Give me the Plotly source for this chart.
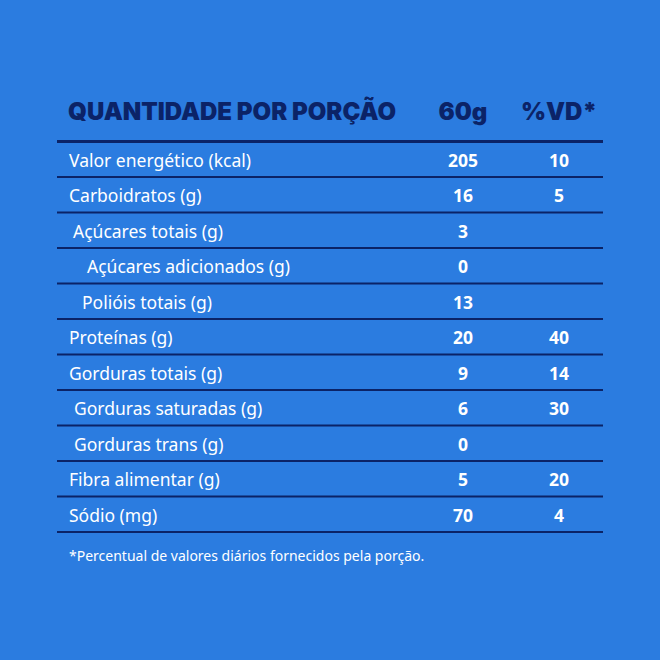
import plotly.graph_objects as go

# Table content
nutrients = [
    "Valor energético (kcal)",
    "Carboidratos (g)",
    "Açúcares totais (g)",
    "Açúcares adicionados (g)",
    "Polióis totais (g)",
    "Proteínas (g)",
    "Gorduras totais (g)",
    "Gorduras saturadas (g)",
    "Gorduras trans (g)",
    "Fibra alimentar (g)",
    "Sódio (mg)",
]
per_portion = ["205", "16", "3", "0", "13", "20", "9", "6", "0", "5", "70"]
daily_value = ["10", "5", "", "", "", "40", "14", "30", "", "20", "4"]
indent = [0, 0, 4, 18, 13, 0, 0, 5, 5, 0, 0]

header = ["QUANTIDADE POR PORÇÃO", "60g", "%VD*"]
footnote = "*Percentual de valores diários fornecidos pela porção."

BG = "#2b7ce0"
NAVY = "#0b2367"
WHITE = "#ffffff"
BODY_FONT = "Noto Sans"

top = 141.5
row_h = 35.5
left, right = 57, 603
col_val, col_vd = 463, 559

n = len(nutrients)
# text sits a little below the geometric middle of each row
row_mid = [top + row_h * (i + 0.5) + 3 for i in range(n)]

fig = go.Figure()

# header line (thicker)
fig.add_trace(go.Scatter(
    x=[left, right], y=[top, top], mode="lines",
    line=dict(color=NAVY, width=3), hoverinfo="skip"
))

# row separator lines
sep_x, sep_y = [], []
for i in range(1, n + 1):
    y = top + row_h * i
    sep_x += [left, right, None]
    sep_y += [y, y, None]
fig.add_trace(go.Scatter(
    x=sep_x, y=sep_y, mode="lines",
    line=dict(color=NAVY, width=2), hoverinfo="skip"
))

# nutrient names
fig.add_trace(go.Scatter(
    x=[69 + d for d in indent], y=row_mid, mode="text",
    text=nutrients, textposition="middle right",
    textfont=dict(family=BODY_FONT, size=17.5, color=WHITE),
    hoverinfo="skip"
))

# values per portion
fig.add_trace(go.Scatter(
    x=[col_val] * n, y=row_mid, mode="text",
    text=per_portion, textposition="middle center",
    textfont=dict(family=BODY_FONT, size=17.5, color=WHITE, weight=700),
    hoverinfo="skip"
))

# %VD
fig.add_trace(go.Scatter(
    x=[col_vd] * n, y=row_mid, mode="text",
    text=daily_value, textposition="middle center",
    textfont=dict(family=BODY_FONT, size=17.5, color=WHITE, weight=700),
    hoverinfo="skip"
))

# header row
fig.add_trace(go.Scatter(
    x=[68, col_val, col_vd], y=[114, 114, 114], mode="text",
    text=header, textposition=["middle right", "middle center", "middle center"],
    textfont=dict(family="Inter", size=24, color=NAVY, weight=900),
    hoverinfo="skip"
))

# footnote
fig.add_trace(go.Scatter(
    x=[69], y=[557], mode="text",
    text=[footnote], textposition="middle right",
    textfont=dict(family=BODY_FONT, size=14, color=WHITE),
    hoverinfo="skip"
))

fig.update_layout(
    width=660, height=660,
    margin=dict(l=0, r=0, t=0, b=0),
    paper_bgcolor=BG, plot_bgcolor=BG,
    showlegend=False,
    xaxis=dict(range=[0, 660], visible=False, fixedrange=True),
    yaxis=dict(range=[660, 0], visible=False, fixedrange=True),
)

fig.write_html(
    "out.html",
    config={"displayModeBar": False},
    post_script="document.body.style.margin='0';"
                "document.body.style.background='" + BG + "';",
)
